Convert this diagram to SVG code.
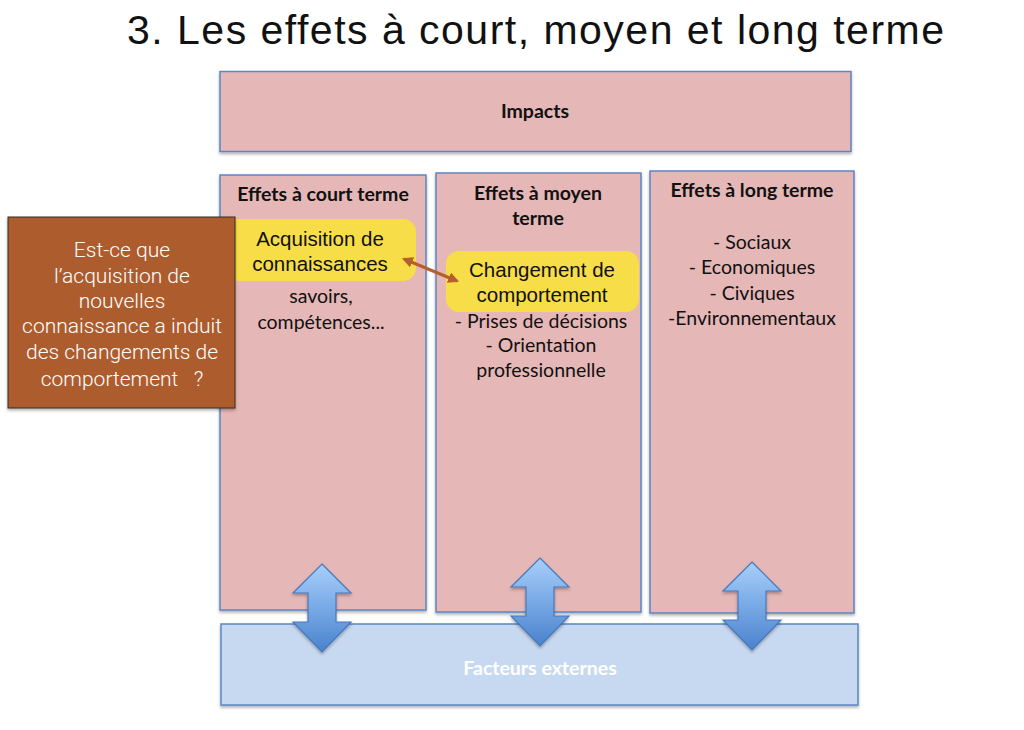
<svg xmlns="http://www.w3.org/2000/svg" width="1024" height="730" viewBox="0 0 1024 730">
<defs>
<style>
.box{fill:#e5b7b7;stroke:#5b86c4;stroke-width:1.5;filter:url(#sh)}
.ext{fill:#c7d9f0;stroke:#5b86c4;stroke-width:1.5;filter:url(#sh)}
.yel{fill:#f7dd48;stroke:none}
.hd{font-family:Lato,"Open Sans",sans-serif;font-weight:700;font-size:19.5px;fill:#111;text-anchor:middle}
.cal{font-family:Lato,"Open Sans",sans-serif;font-size:19.5px;fill:#111;text-anchor:middle}
.hv{font-family:"Liberation Sans",Arial,sans-serif;font-size:20.5px;fill:#111;text-anchor:middle}
.q{font-family:Roboto,"Liberation Sans",sans-serif;font-weight:300;font-size:21px;fill:#fff;text-anchor:middle}
.ttl{font-family:"Liberation Sans",Arial,sans-serif;font-size:41px;fill:#111;text-anchor:middle}
.barr{fill:url(#bg);stroke:#4677bd;stroke-width:1.2;filter:url(#sh)}
</style>
<filter id="sh" x="-10%" y="-10%" width="120%" height="130%">
<feDropShadow dx="0" dy="2" stdDeviation="1.5" flood-color="#000" flood-opacity="0.3"/>
</filter>
<linearGradient id="bg" x1="0" y1="0" x2="0" y2="1">
<stop offset="0" stop-color="#a8cff9"/>
<stop offset="0.5" stop-color="#78a9e6"/>
<stop offset="1" stop-color="#4a82cc"/>
</linearGradient>
<path id="dbl" d="M0,0 L29,29 L14,29 L14,58 L29,58 L0,88 L-29,58 L-14,58 L-14,29 L-29,29 Z"/>
<marker id="ah" viewBox="0 0 10 10" refX="8" refY="5" markerWidth="11" markerHeight="11" markerUnits="userSpaceOnUse" orient="auto-start-reverse">
<path d="M0,0 L10,5 L0,10 Z" fill="#b4602c"/>
</marker>
</defs>
<rect width="1024" height="730" fill="#fff"/>
<text class="ttl" x="535.5" y="44" textLength="817" lengthAdjust="spacing">3. Les effets à court, moyen et long terme</text>

<g id="impacts">
<rect class="box" x="220" y="71.5" width="631" height="80"/>
<text class="hd" x="535" y="118">Impacts</text>
</g>

<g id="court">
<rect class="box" x="220" y="175" width="206" height="435"/>
<text class="hd" x="323" y="201">Effets à court terme</text>
<text class="cal" x="321" y="303">savoirs,</text>
<text class="cal" x="321" y="329">compétences...</text>
</g>

<g id="moyen">
<rect class="box" x="436" y="173" width="205" height="439"/>
<text class="hd" x="538" y="200">Effets à moyen</text>
<text class="hd" x="538" y="225">terme</text>
<text class="cal" x="541" y="328">- Prises de décisions</text>
<text class="cal" x="541" y="352">- Orientation</text>
<text class="cal" x="541" y="377">professionnelle</text>
</g>

<g id="long">
<rect class="box" x="650" y="171" width="204" height="442"/>
<text class="hd" x="752" y="197">Effets à long terme</text>
<text class="cal" x="752" y="249">- Sociaux</text>
<text class="cal" x="752" y="274">- Economiques</text>
<text class="cal" x="752" y="300">- Civiques</text>
<text class="cal" x="752" y="325">-Environnementaux</text>
</g>

<g id="acquisition">
<rect class="yel" x="226" y="219" width="190" height="62" rx="13"/>
<text class="hv" x="320" y="246">Acquisition de</text>
<text class="hv" x="320" y="271">connaissances</text>
</g>

<g id="changement">
<rect class="yel" x="446" y="251" width="193" height="61" rx="13"/>
<text class="hv" x="542" y="277">Changement de</text>
<text class="hv" x="542" y="302">comportement</text>
</g>

<g id="question">
<rect x="8" y="217" width="227" height="191" fill="#ad5b2e" stroke="#3a2a20" stroke-width="1" filter="url(#sh)"/>
<text class="q" x="122" y="257">Est-ce que</text>
<text class="q" x="122" y="283">l’acquisition de</text>
<text class="q" x="122" y="308">nouvelles</text>
<text class="q" x="122" y="333">connaissance a induit</text>
<text class="q" x="122" y="359">des changements de</text>
<text class="q" x="122" y="386" xml:space="preserve">comportement   ?</text>
</g>

<g id="facteurs">
<rect class="ext" x="221" y="624" width="637" height="81"/>
<text class="hd" x="540" y="675" style="fill:#fff">Facteurs externes</text>
</g>

<g id="connectors">
<line x1="404" y1="259" x2="457" y2="281" stroke="#b4602c" stroke-width="3" marker-start="url(#ah)" marker-end="url(#ah)"/>
<use href="#dbl" class="barr" x="322" y="564"/>
<use href="#dbl" class="barr" x="540" y="558"/>
<use href="#dbl" class="barr" x="752" y="562"/>
</g>
</svg>
